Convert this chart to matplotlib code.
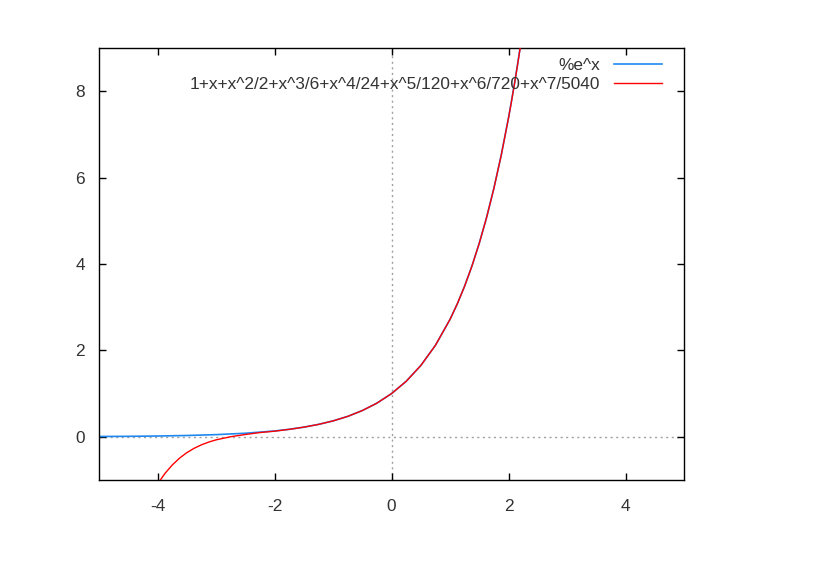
import matplotlib
matplotlib.use('Agg')
import matplotlib.pyplot as plt

# values
exp_x = [-5.0, -4.5, -4.0, -3.5, -3.0, -2.5, -2.0, -1.75, -1.5, -1.25, -1.0, -0.75, -0.5, -0.25, 0.0,
         0.25, 0.5, 0.75, 1.0, 1.125, 1.25, 1.375, 1.5, 1.625, 1.75, 1.875,
         2.0, 2.05, 2.1, 2.15, 2.2, 2.25, 2.3]
exp_y = [0.007, 0.011, 0.018, 0.030, 0.050, 0.082, 0.135, 0.174, 0.223, 0.287, 0.368, 0.472, 0.607, 0.779, 1.0,
         1.284, 1.649, 2.117, 2.718, 3.080, 3.490, 3.955, 4.482, 5.078, 5.755, 6.520,
         7.389, 7.768, 8.166, 8.585, 9.025, 9.488, 9.974]

taylor_x = [-4.0, -3.875, -3.75, -3.625, -3.5, -3.375, -3.25, -3.125, -3.0, -2.75, -2.5,
            -2.25, -2.0, -1.75, -1.5, -1.25, -1.0, -0.75, -0.5, -0.25, 0.0, 0.25, 0.5, 0.75,
            1.0, 1.125, 1.25, 1.375, 1.5, 1.625, 1.75, 1.875, 2.0, 2.05, 2.1, 2.15, 2.2, 2.25, 2.3]
taylor_y = [-1.095, -0.852, -0.655, -0.496, -0.368, -0.267, -0.186, -0.122, -0.071, 0.002, 0.053,
            0.098, 0.130, 0.172, 0.223, 0.286, 0.368, 0.472, 0.607, 0.779, 1.0, 1.284, 1.649, 2.117,
            2.718, 3.080, 3.490, 3.955, 4.481, 5.077, 5.752, 6.516, 7.381, 7.759, 8.152, 8.572, 9.007, 9.469, 9.946]

labels = ['%e^x', '1+x+x^2/2+x^3/6+x^4/24+x^5/120+x^6/720+x^7/5040']
x_ticks = [-4, -2, 0, 2, 4]
y_ticks = [0, 2, 4, 6, 8]

plt.rcParams['font.family'] = ['Liberation Sans', 'DejaVu Sans']
plt.rcParams['axes.unicode_minus'] = False

fig = plt.figure(figsize=(8.19, 5.79), dpi=100)
ax = fig.add_axes([0.1209, 0.171, 0.7143, 0.746])

ax.axhline(0, color='#a0a0a0', lw=1, ls=(0, (1.5, 2.5)), zorder=1)
ax.axvline(0, color='#a0a0a0', lw=1, ls=(0, (1.5, 2.5)), zorder=1)

ax.plot(exp_x, exp_y, color='#1e88f0', lw=1.2, label=labels[0], zorder=2)
ax.plot(taylor_x, taylor_y, color='#ff0000', lw=1.0, label=labels[1], zorder=3)

ax.set_xlim(-5, 5)
ax.set_ylim(-1, 9)
ax.set_xticks(x_ticks)
ax.set_yticks(y_ticks)
ax.tick_params(direction='in', top=True, right=True, length=5, width=1,
               labelsize=12.4, colors='black', labelcolor='#333333')
ax.tick_params(axis='x', pad=14)
ax.tick_params(axis='y', pad=10)
for s in ax.spines.values():
    s.set_linewidth(1)

ax.legend(loc='upper right', bbox_to_anchor=(0.962, 0.976), frameon=False,
          markerfirst=False, fontsize=12.4, handlelength=2.8, handletextpad=0.8,
          labelspacing=0.22, borderpad=0, borderaxespad=0, labelcolor='#333333')

fig.savefig('out.png', dpi=100)
